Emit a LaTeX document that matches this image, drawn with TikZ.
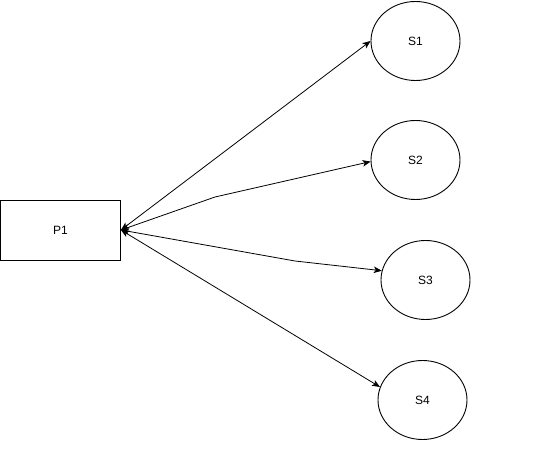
\documentclass[tikz,border=0pt]{standalone}
\usepackage{fontspec}
\setmainfont{Liberation Sans}
\usetikzlibrary{shapes.geometric,arrows.meta}
\begin{document}
\begin{tikzpicture}[x=1pt,y=-1pt,
  box/.style={draw,line width=0.9pt,minimum width=120pt,minimum height=60pt,inner sep=0pt,font=\fontsize{12}{14}\selectfont},
  st/.style={draw,ellipse,line width=0.9pt,minimum width=89pt,minimum height=79pt,inner sep=0pt,font=\fontsize{12}{14}\selectfont},
  link/.style={line width=0.8pt,{Stealth[length=8pt,width=6.5pt,inset=2pt]}-{Stealth[length=8pt,width=6.5pt,inset=2pt]}}]
\useasboundingbox[fill=white] (0,0) rectangle (549,462);
\node[box] (p1) at (60.5,230) {P1};
\node[st] (s1) at (415.5,41) {S1};
\node[st] (s2) at (415.5,160) {S2};
\node[st] (s3) at (425.5,280) {S3};
\node[st] (s4) at (422.5,400) {S4};
\coordinate (b2) at (215,197);
\coordinate (b3) at (295,261);
\draw[link] (p1.east) -- (s1.west);
\draw[link] (p1.east) -- (b2) -- (s2.182);
\draw[link] (p1.east) -- (b3) -- (s3.168);
\draw[link] (p1.east) -- (s4.163);
\end{tikzpicture}
\end{document}
